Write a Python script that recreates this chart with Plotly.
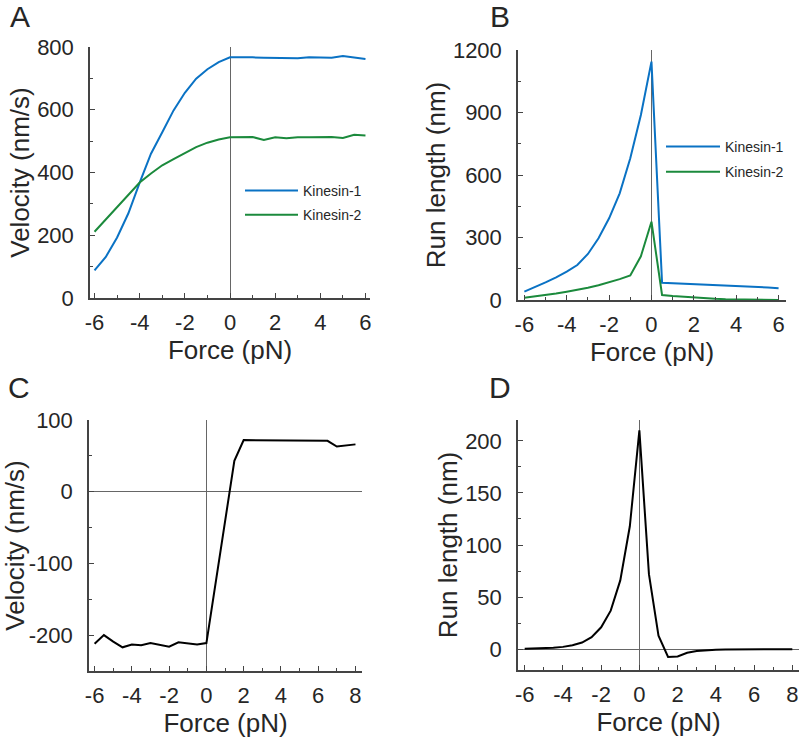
import plotly.graph_objects as go

# ---------------- data ----------------
force_a = [-6, -5.5, -5, -4.5, -4, -3.5, -3, -2.5, -2, -1.5, -1, -0.5, 0,
           0.5, 1, 1.5, 2, 2.5, 3, 3.5, 4, 4.5, 5, 5.5, 6]
vel_kin1 = [88, 131, 193, 270, 368, 460, 528, 598, 654, 699, 729, 752, 767,
            768, 767, 766, 766, 765, 764, 767, 767, 766, 771, 766, 762]
vel_kin2 = [211, 251, 290, 330, 368, 397, 423, 443, 462, 481, 495, 505, 512,
            512, 513, 504, 512, 509, 512, 512, 512, 513, 510, 520, 518]

force_b = [-6, -5.5, -5, -4.5, -4, -3.5, -3, -2.5, -2, -1.5, -1, -0.5, 0,
           0.5, 1, 1.5, 2, 2.5, 3, 3.5, 4, 4.5, 5, 5.5, 6]
run_kin1 = [40, 61, 85, 109, 136, 168, 221, 296, 392, 512, 680, 888, 1144,
            83, 81, 79, 76, 74, 72, 70, 67, 65, 62, 60, 57]
run_kin2 = [11, 17, 24, 31, 40, 49, 59, 71, 85, 100, 118, 210, 376,
            24, 19, 15, 12, 9, 6, 4, 3, 2, 1, 1, 0.5]

force_cd = [-6, -5.5, -5, -4.5, -4, -3.5, -3, -2.5, -2, -1.5, -1, -0.5, 0,
            0.5, 1, 1.5, 2, 2.5, 3, 3.5, 4, 4.5, 5, 5.5, 6, 6.5, 7, 7.5, 8]
vel_diff = [-212, -200, -209, -217, -213, -214, -211, -213, -216, -210, -212, -213, -211,
            -126, -42, 43, 72, 72, 71, 71, 71, 71, 72, 71, 71, 71, 63, 65, 66]
run_diff = [0.3, 0.5, 0.9, 1.4, 2.2, 3.8, 6.4, 11.5, 21, 37, 66, 118, 210,
            72, 13, -7.5, -7, -3.5, -1.8, -0.9, -0.5, -0.3, -0.2, -0.1, 0, 0, 0, 0, 0]

x_ticks_ab = [-6, -4, -2, 0, 2, 4, 6]
x_ticks_cd = [-6, -4, -2, 0, 2, 4, 6, 8]
y_ticks_a = [0, 200, 400, 600, 800]
y_ticks_b = [0, 300, 600, 900, 1200]
y_ticks_c = [-200, -100, 0, 100]
y_ticks_d = [0, 50, 100, 150, 200]

# ---------------- style ----------------
BLUE = "#0a72c4"
GREEN = "#1b8a3c"
BLACK = "#000000"
AX = "#444444"
TXT = "#262626"
FONT = "Liberation Sans, Arial, sans-serif"
W = 800
H = 742


def px2x(p):
    return p / W


def px2y(p):
    return 1 - p / H


def lbl(vals):
    return [str(v) for v in vals]  # plain hyphen-minus, as in the reference


fig = go.Figure()

fig.add_trace(go.Scatter(x=force_a, y=vel_kin1, mode="lines", name="Kinesin-1",
                         line=dict(color=BLUE, width=2), xaxis="x", yaxis="y",
                         legend="legend", legendgroup="a1"))
fig.add_trace(go.Scatter(x=force_a, y=vel_kin2, mode="lines", name="Kinesin-2",
                         line=dict(color=GREEN, width=2), xaxis="x", yaxis="y",
                         legend="legend", legendgroup="a2"))
fig.add_trace(go.Scatter(x=force_b, y=run_kin1, mode="lines", name="Kinesin-1",
                         line=dict(color=BLUE, width=2), xaxis="x2", yaxis="y2",
                         legend="legend2", legendgroup="b1"))
fig.add_trace(go.Scatter(x=force_b, y=run_kin2, mode="lines", name="Kinesin-2",
                         line=dict(color=GREEN, width=2), xaxis="x2", yaxis="y2",
                         legend="legend2", legendgroup="b2"))
fig.add_trace(go.Scatter(x=force_cd, y=vel_diff, mode="lines", showlegend=False,
                         line=dict(color=BLACK, width=2), xaxis="x3", yaxis="y3"))
fig.add_trace(go.Scatter(x=force_cd, y=run_diff, mode="lines", showlegend=False,
                         line=dict(color=BLACK, width=2), xaxis="x4", yaxis="y4"))


def xax(dom, rng, anchor, ticks):
    return dict(domain=dom, range=rng, anchor=anchor, automargin=False,
                showline=True, linecolor=AX,
                linewidth=1.5, ticks="inside", ticklen=5, tickcolor=AX, tickwidth=1,
                tickvals=ticks, ticktext=lbl(ticks), showgrid=False, zeroline=True,
                zerolinecolor="#666666", zerolinewidth=1.2,
                tickfont=dict(family=FONT, size=22, color=TXT),
                ticklabelstandoff=4,
                minor=dict(dtick=1, tick0=0, ticks="inside", ticklen=3, tickcolor=AX,
                           showgrid=False),
                title=dict(text="Force (pN)", font=dict(family=FONT, size=26, color=TXT),
                           standoff=1))


def yax(dom, rng, anchor, ticks, mdtick, title, zero=False):
    return dict(domain=dom, range=rng, anchor=anchor, automargin=False,
                showline=True, linecolor=AX,
                linewidth=1.5, ticks="inside", ticklen=5, tickcolor=AX, tickwidth=1,
                tickvals=ticks, ticktext=lbl(ticks), showgrid=False, zeroline=zero,
                zerolinecolor="#666666", zerolinewidth=1.2,
                tickfont=dict(family=FONT, size=22, color=TXT), ticklabelstandoff=10,
                minor=dict(dtick=mdtick, tick0=0, ticks="inside", ticklen=3, tickcolor=AX,
                           showgrid=False),
                title=dict(text=title, font=dict(family=FONT, size=26, color=TXT),
                           standoff=0))


fig.update_layout(
    template="none",
    width=W, height=H, margin=dict(l=0, r=0, t=0, b=0, autoexpand=False),
    paper_bgcolor="white", plot_bgcolor="white",
    font=dict(family=FONT, color=TXT),
    xaxis=xax([px2x(90), px2x(370)], [-6.2, 6.2], "y", x_ticks_ab),
    yaxis=yax([px2y(298), px2y(47)], [0, 800], "x", y_ticks_a, 100, "Velocity (nm/s)"),
    xaxis2=xax([px2x(518), px2x(786)], [-6.3, 6.35], "y2", x_ticks_ab),
    yaxis2=yax([px2y(300), px2y(50)], [0, 1200], "x2", y_ticks_b, 150, "Run length (nm)"),
    xaxis3=xax([px2x(89), px2x(362)], [-6.3, 8.35], "y3", x_ticks_cd),
    yaxis3=yax([px2y(671), px2y(420)], [-250, 100], "x3", y_ticks_c, 50, "Velocity (nm/s)",
               zero=True),
    xaxis4=xax([px2x(518), px2x(799)], [-6.35, 8.35], "y4", x_ticks_cd),
    yaxis4=yax([px2y(670), px2y(420)], [-20, 220], "x4", y_ticks_d, 25, "Run length (nm)",
               zero=True),
    legend=dict(x=px2x(240), y=px2y(175), xanchor="left", yanchor="top",
                bgcolor="rgba(0,0,0,0)", font=dict(family=FONT, size=14, color=TXT),
                tracegroupgap=3, itemwidth=53),
    legend2=dict(x=px2x(661), y=px2y(131), xanchor="left", yanchor="top",
                 bgcolor="rgba(0,0,0,0)", font=dict(family=FONT, size=14, color=TXT),
                 tracegroupgap=4, itemwidth=54),
)

for letter, x, y in [("A", 20, 16), ("B", 500, 16), ("C", 19, 387), ("D", 500, 387)]:
    fig.add_annotation(text=letter, x=px2x(x), y=px2y(y), xref="paper", yref="paper",
                       showarrow=False, xanchor="center", yanchor="middle",
                       font=dict(family=FONT, size=30, color=TXT))

fig.write_html("out.html", config={"displayModeBar": False},
               post_script="document.body.style.margin='0px';")
